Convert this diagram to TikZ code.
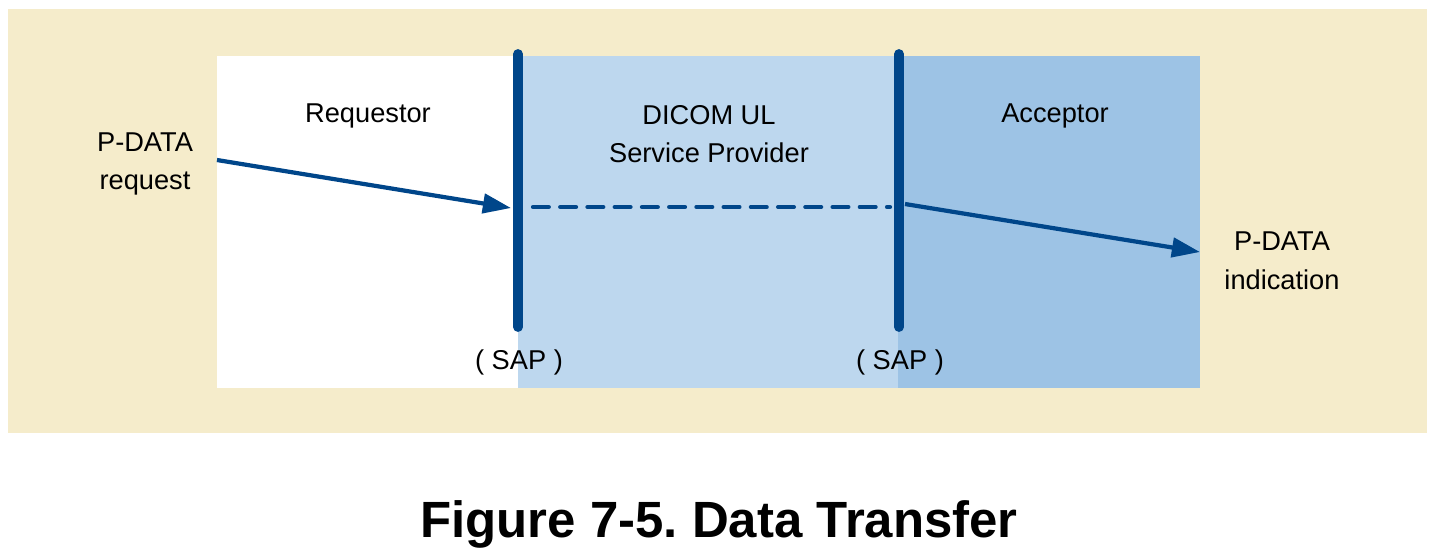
\documentclass[tikz,border=0pt]{standalone}
\usepackage{fontspec}
\setmainfont{Liberation Sans}
\usetikzlibrary{arrows.meta}
\definecolor{bgtan}{HTML}{F5ECCB}
\definecolor{ltblue}{HTML}{BDD7EE}
\definecolor{dkblue}{HTML}{9DC3E5}
\definecolor{navy}{HTML}{00468A}
\frenchspacing
\begin{document}
\begin{tikzpicture}[x=0.02cm,y=-0.02cm,
  lbl/.style={font=\fontsize{15.5}{22}\selectfont,align=center,inner sep=0pt},
  sapbar/.style={navy,line width=5.6pt,line cap=round},
  flow/.style={navy,line width=2.4pt,-{Triangle[length=16pt,width=11pt]}}]
\useasboundingbox(0,0)rectangle(1440,556);
\fill[bgtan](8,9)rectangle(1427,433);
\fill[white](217,56)rectangle(518,388);
\fill[ltblue](518,56)rectangle(898,388);
\fill[dkblue](898,56)rectangle(1200,388);
% service access points
\coordinate(sapAt)at(518,54);\coordinate(sapAb)at(518,327);
\coordinate(sapBt)at(899,54);\coordinate(sapBb)at(899,327);
\draw[sapbar](sapAt)--(sapAb);
\draw[sapbar](sapBt)--(sapBb);
\node[lbl](req)at(368,116){Requestor};
\node[lbl](prov)at(709,134){DICOM UL\\Service Provider};
\node[lbl](acc)at(1055,116){Acceptor};
\node[lbl](preq)at(145,164){P-DATA\\request};
\node[lbl](pind)at(1282,261){P-DATA\\indication};
\node[lbl](sapA)at(519,362){( SAP )};
\node[lbl](sapB)at(900,362){( SAP )};
% data flow
\coordinate(kA)at(217,160);\coordinate(kB)at(511,208);
\coordinate(kC)at(533,207);\coordinate(kD)at(890,207);
\coordinate(kE)at(905,204);\coordinate(kF)at(1200,252);
\draw[flow](kA)--(kB);
\draw[navy,line width=2.4pt,line cap=round,dash pattern=on 9pt off 6.5pt](kC)--(kD);
\draw[flow](kE)--(kF);
\node[font=\bfseries\fontsize{29}{34}\selectfont](title)at(719,524){Figure 7-5. Data Transfer};
\end{tikzpicture}
\end{document}
